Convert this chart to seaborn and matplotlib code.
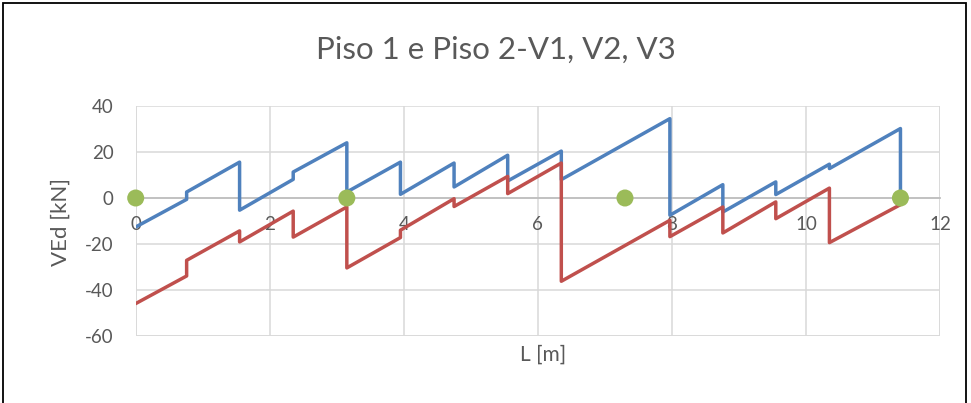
import numpy as np
import pandas as pd
import matplotlib
matplotlib.use("Agg")
import matplotlib.pyplot as plt
import seaborn as sns
from matplotlib.patches import Rectangle

# posiciones [m] (valores repetidos = saltos de cortante)
x_v = [0, 0.76, 0.76, 1.55, 1.55, 2.35, 2.35, 3.15, 3.15, 3.95, 3.95, 4.75, 4.75,
       5.55, 5.55, 6.35, 6.35, 7.97, 7.97, 8.76, 8.76, 9.55, 9.55, 10.35, 10.35,
       11.41, 11.41]
piso1 = [-12.6, -0.6, 2.6, 15.6, -5.3, 8.1, 11.3, 24.0, 2.6, 15.6, 1.6, 15.2, 4.8,
         18.6, 7.4, 20.4, 8.0, 34.5, -7.5, 5.8, -6.1, 7.0, 1.5, 14.7, 12.8,
         30.2, 0.0]

x_r = [0, 0.76, 0.76, 1.55, 1.55, 2.35, 2.35, 3.15, 3.15, 3.95, 3.95, 4.75, 4.75,
       5.55, 5.55, 6.35, 6.35, 7.97, 7.97, 8.76, 8.76, 9.55, 9.55, 10.35, 10.35,
       11.41]
piso2 = [-45.9, -33.9, -27.1, -14.3, -19.1, -5.7, -17.0, -3.9, -30.4, -17.2, -14.0,
         -0.3, -3.7, 9.4, 1.9, 15.2, -36.2, -9.7, -16.8, -3.9, -15.2, -1.7, -9.0,
         4.3, -19.4, -2.9]

apoyos_x = [0, 3.15, 7.3, 11.41]
apoyos_y = [0, 0, 0, 0]

x_ticks = [0, 2, 4, 6, 8, 10, 12]
y_ticks = [-60, -40, -20, 0, 20, 40]

sns.set_theme(style="white")
plt.rcParams["font.family"] = ["Lato", "DejaVu Sans"]
plt.rcParams["axes.unicode_minus"] = False

fig = plt.figure(figsize=(9.71, 4.03), dpi=100)
ax = fig.add_axes([135.7 / 971, 1 - 336 / 403, (940 - 135.7) / 971, (336 - 106) / 403])

df1 = pd.DataFrame({"L": x_v, "V": piso1})
df2 = pd.DataFrame({"L": x_r, "V": piso2})
sns.lineplot(data=df1, x="L", y="V", sort=False, estimator=None, color="#4F81BD",
             linewidth=2.5, ax=ax, zorder=3)
sns.lineplot(data=df2, x="L", y="V", sort=False, estimator=None, color="#C0504D",
             linewidth=2.5, ax=ax, zorder=3)
sns.scatterplot(x=apoyos_x, y=apoyos_y, color="#9BBB59", s=150, edgecolor="none",
                ax=ax, zorder=4, clip_on=False)

ax.set_xlim(0, 12)
ax.set_ylim(-60, 40)
ax.set_xticks(x_ticks)
ax.set_yticks(y_ticks)
ax.grid(True, color="#d9d9d9", linewidth=1.1)
for s in ["top", "right", "left"]:
    ax.spines[s].set_visible(False)
ax.spines["bottom"].set_position(("data", 0))
ax.spines["bottom"].set_color("#bfbfbf")
ax.spines["bottom"].set_linewidth(1.3)
ax.axhline(-60, color="#d9d9d9", linewidth=1.1, zorder=0)
ax.axvline(12, color="#d9d9d9", linewidth=1.1, zorder=0)
ax.axvline(0, color="#d9d9d9", linewidth=1.1, zorder=0)
ax.tick_params(axis="x", length=0, pad=13, labelsize=13.5, labelcolor="#595959")
ax.tick_params(axis="y", length=0, pad=16, labelsize=13.5, labelcolor="#595959")
ax.set_xlabel("")
ax.set_ylabel("")

fig.text(543 / 971, 1 - 355 / 403, "L [m]", ha="center", va="center",
         fontsize=15, color="#595959")
fig.text(61 / 971, 1 - 222 / 403, "VEd [kN]", ha="center", va="center",
         rotation=90, fontsize=16, color="#595959")
fig.suptitle("Piso 1 e Piso 2-V1, V2, V3", x=496 / 971, y=1 - 50 / 403,
             va="center", fontsize=22.5, color="#595959")

fig.patches.append(Rectangle((3 / 971, -0.05), 963 / 971, 1.05 - 3 / 403,
                             transform=fig.transFigure, fill=False,
                             edgecolor="black", linewidth=1.3))

fig.savefig("out.png", dpi=100)
